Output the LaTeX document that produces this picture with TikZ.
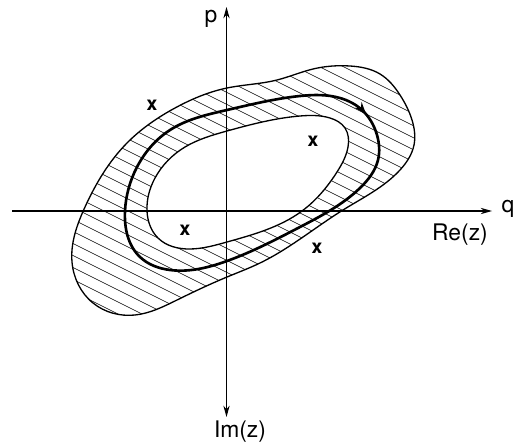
\documentclass[tikz,border=0pt]{standalone}
\usepackage{fontspec}
\setsansfont{TeX Gyre Heros}
\usetikzlibrary{arrows.meta, hobby, decorations.markings}

\begin{document}
\begin{tikzpicture}[x=0.02cm, y=-0.02cm,
  axis/.style={line width=0.6pt, >={Stealth[length=6.5pt, width=3.6pt]}},
  curve/.style={line width=0.75pt},
  orbit/.style={line width=1.5pt},
  hatch/.style={line width=0.35pt},
  lbl/.style={font=\fontsize{13}{15}\selectfont\sffamily, inner sep=1pt},
  pole/.style={font=\fontsize{11}{13}\selectfont\bfseries\sffamily, inner sep=0pt}]

  \useasboundingbox (0,0) rectangle (516,446);

  % outer and inner boundary of the strip
  \def\outerpath{plot[closed hobby] coordinates {(227,88) (277,80) (313,69) (350,66) (380,74) (400,95) (412,120) (414,145) (400,170) (343,210) (260,263) (227,277) (177,300) (135,315) (93,303) (72,262) (85,207) (127,143) (175,108)}}
  \def\innerpath{plot[closed hobby] coordinates {(227,131) (300,116) (330,118) (345,128) (348,147) (337,172) (302,211) (227,242) (190,249) (158,238) (147,211) (155,178) (185,147)}}

  % hatching of the strip
  \begin{scope}
    \clip \outerpath;
    \foreach \c in {-200,-188,...,400}
      \draw[hatch] (50,\c) -- (440,\c+195);
  \end{scope}
  \fill[white] \innerpath;

  % axes
  \coordinate (qL) at (12,211);
  \coordinate (qR) at (492,211);
  \coordinate (pT) at (226.5,7);
  \coordinate (pB) at (226.5,417);
  \draw[axis, ->] (qL) -- (qR);
  \draw[axis, <->] (pB) -- (pT);

  \draw[curve] \outerpath;
  \draw[curve] \innerpath;

  % closed orbit
  \draw[orbit, decoration={markings, mark=at position 0.215 with {\arrow{Stealth[length=7pt, width=5pt]}}}, postaction={decorate}]
    plot[closed hobby] coordinates {(227,110) (300,96) (340,98) (362,110) (377,135) (378,160) (360,188) (300,227) (227,261) (170,270) (140,257) (125,211) (137,167) (170,130)};

  % singularities
  \node[pole] (x1) at (152,105) {x};
  \node[pole] (x2) at (313,141) {x};
  \node[pole] (x3) at (185,230) {x};
  \node[pole] (x4) at (317,248) {x};

  % labels
  \node[lbl] (p) at (211,19) {p};
  \node[lbl] (q) at (508,209) {q};
  \node[lbl] (re) at (460,235) {Re(z)};
  \node[lbl] (im) at (240,432) {Im(z)};
\end{tikzpicture}
\end{document}
